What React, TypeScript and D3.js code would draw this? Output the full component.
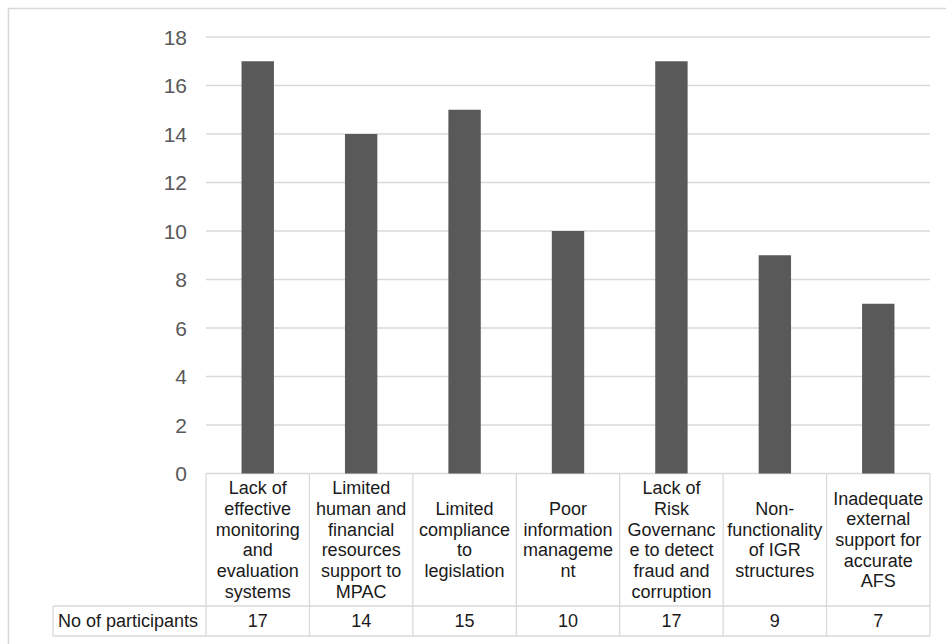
import React from "react";
import * as d3 from "d3";

// Category labels, already broken into the lines shown in the table cells
const categoryLines: string[][] = [
  ["Lack of", "effective", "monitoring", "and", "evaluation", "systems"],
  ["Limited", "human and", "financial", "resources", "support to", "MPAC"],
  ["Limited", "compliance", "to", "legislation"],
  ["Poor", "information", "manageme", "nt"],
  ["Lack of", "Risk", "Governanc", "e to detect", "fraud and", "corruption"],
  ["Non-", "functionality", "of IGR", "structures"],
  ["Inadequate", "external", "support for", "accurate", "AFS"],
];

const seriesName = "No of participants";
const participants = [17, 14, 15, 10, 17, 9, 7];
const yTicks = [0, 2, 4, 6, 8, 10, 12, 14, 16, 18];

const W = 946;
const H = 644;
const FONT = "'Liberation Sans', Arial, sans-serif";
const GRID = "#d9d9d9";

export default function App() {
  const plotLeft = 206;
  const plotRight = 930;
  const yTop = 37;
  const yBottom = 473.5;
  const catRowBottom = 606;
  const numRowBottom = 636;
  const labelCellLeft = 53;

  const ids = categoryLines.map((_, i) => String(i));
  const x = d3.scaleBand<string>().domain(ids).range([plotLeft, plotRight]).paddingInner(0).paddingOuter(0);
  const y = d3.scaleLinear().domain([0, 18]).range([yBottom, yTop]);
  const bw = x.bandwidth();
  const barW = bw * 0.313;
  const lineH = 20.7;
  const catMid = (yBottom + catRowBottom) / 2;
  const numMid = (catRowBottom + numRowBottom) / 2;

  return (
    <svg
      width={W}
      height={H}
      style={{ position: "absolute", left: 0, top: 0, display: "block", background: "#fff" }}
      fontFamily={FONT}
    >
      {/* chart frame */}
      <rect x={8.5} y={8.5} width={W + 20} height={H + 20} fill="#fff" stroke={GRID} strokeWidth={1.5} />

      {/* gridlines */}
      {yTicks.map((t) => (
        <line key={"g" + t} x1={plotLeft} x2={plotRight} y1={y(t)} y2={y(t)} stroke={GRID} strokeWidth={1.3} />
      ))}

      {/* y tick labels */}
      {yTicks.map((t) => (
        <text key={"t" + t} x={187} y={y(t)} dy="0.36em" textAnchor="end" fontSize={21} fill="#595959">
          {t}
        </text>
      ))}

      {/* bars */}
      {participants.map((v, i) => (
        <rect
          key={"b" + i}
          x={(x(String(i)) as number) + bw / 2 - barW / 2}
          y={y(v)}
          width={barW}
          height={y(0) - y(v)}
          fill="#595959"
        />
      ))}

      {/* data table grid */}
      <g stroke={GRID} strokeWidth={1.3} fill="none">
        <line x1={labelCellLeft} x2={plotRight} y1={catRowBottom} y2={catRowBottom} />
        <line x1={labelCellLeft} x2={plotRight} y1={numRowBottom} y2={numRowBottom} />
        <line x1={labelCellLeft} x2={labelCellLeft} y1={catRowBottom} y2={numRowBottom} />
        {ids.map((id) => (
          <line key={"v" + id} x1={x(id)} x2={x(id)} y1={yBottom} y2={numRowBottom} />
        ))}
        <line x1={plotRight} x2={plotRight} y1={yBottom} y2={numRowBottom} />
      </g>

      {/* category labels */}
      {categoryLines.map((lines, i) => {
        const cx = (x(String(i)) as number) + bw / 2;
        const start = catMid - ((lines.length - 1) * lineH) / 2;
        return (
          <text key={"c" + i} x={cx} textAnchor="middle" fontSize={18} fill="#1a1a1a">
            {lines.map((ln, j) => (
              <tspan key={j} x={cx} y={start + j * lineH} dy="0.35em">
                {ln}
              </tspan>
            ))}
          </text>
        );
      })}

      {/* series row */}
      <text x={58} y={numMid} dy="0.35em" fontSize={18} fill="#1a1a1a">
        {seriesName}
      </text>
      {participants.map((v, i) => (
        <text
          key={"n" + i}
          x={(x(String(i)) as number) + bw / 2}
          y={numMid}
          dy="0.35em"
          textAnchor="middle"
          fontSize={18}
          fill="#1a1a1a"
        >
          {v}
        </text>
      ))}
    </svg>
  );
}
